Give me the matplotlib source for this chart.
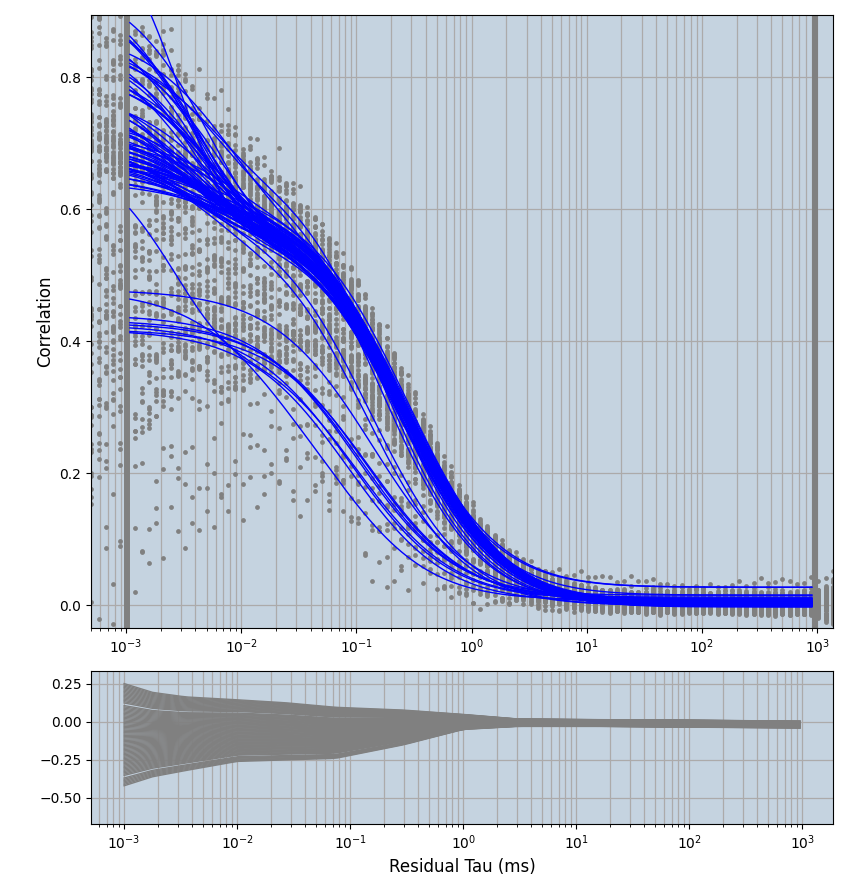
import numpy as np
import matplotlib
matplotlib.use("Agg")
import matplotlib.pyplot as plt

# ---------------- fit parameters ----------------
# main bundle
main_A = [0.60,0.59,0.61,0.60,0.58,0.62,0.60,0.59,0.61,0.60,
          0.57,0.60,0.61,0.59,0.60,0.62,0.58,0.60,0.61,0.59,
          0.60,0.61,0.58,0.60,0.62,0.59,0.60,0.61,0.60,0.58,
          0.59,0.61,0.60,0.62,0.59,0.60,0.58,0.61,0.60,0.59,
          0.63,0.60,0.59,0.61,0.60,0.58,0.60,0.62,0.59,0.61,
          0.60,0.59,0.61,0.58,0.60,0.62,0.60,0.59,0.61,0.60]
main_tauD = [0.26,0.25,0.27,0.24,0.26,0.28,0.25,0.27,0.26,0.23,
             0.26,0.27,0.25,0.28,0.24,0.26,0.27,0.25,0.26,0.29,
             0.25,0.26,0.24,0.27,0.26,0.25,0.28,0.26,0.27,0.24,
             0.26,0.25,0.27,0.26,0.23,0.26,0.28,0.25,0.26,0.27,
             0.24,0.26,0.27,0.25,0.26,0.28,0.25,0.26,0.27,0.24,
             0.26,0.25,0.27,0.26,0.29,0.25,0.26,0.24,0.27,0.26]
main_B = [0.06,0.12,0.20,0.05,0.15,0.09,0.25,0.13,0.04,0.18,
          0.10,0.30,0.07,0.22,0.14,0.08,0.27,0.16,0.05,0.11,
          0.19,0.09,0.34,0.13,0.06,0.23,0.10,0.17,0.04,0.29,
          0.12,0.15,0.08,0.21,0.36,0.10,0.14,0.07,0.26,0.17,
          0.05,0.11,0.19,0.32,0.08,0.16,0.10,0.24,0.13,0.06,
          0.28,0.09,0.18,0.12,0.33,0.05,0.15,0.21,0.10,0.35]
main_tauF = [0.004,0.003,0.005,0.004,0.006,0.007,0.004,0.005,0.003,0.004,
             0.005,0.004,0.003,0.006,0.006,0.004,0.005,0.003,0.004,0.005,
             0.004,0.007,0.005,0.004,0.004,0.006,0.003,0.005,0.005,0.004,
             0.003,0.004,0.006,0.004,0.004,0.003,0.005,0.004,0.006,0.004,
             0.004,0.005,0.003,0.004,0.007,0.005,0.004,0.003,0.005,0.006,
             0.005,0.004,0.003,0.006,0.004,0.005,0.004,0.003,0.004,0.005]
main_off = [0.002,0.000,0.004,0.001,-0.002,0.003,0.006,0.001,0.002,-0.001,
            0.003,0.000,0.005,0.002,0.001,-0.003,0.004,0.002,0.000,0.003,
            0.001,0.007,0.002,-0.001,0.003,0.001,0.004,0.000,0.002,0.005,
            0.001,-0.002,0.003,0.002,0.000,0.004,0.001,0.006,0.002,0.001,
            0.003,0.000,0.002,0.004,-0.001,0.002,0.005,0.001,0.003,0.000,
            0.002,0.004,0.001,-0.002,0.003,0.002,0.000,0.008,0.001,0.003]

# outlying fits: crossing, below-bundle, steep top, offset tails, lower group
extra_A    = [0.68,0.67,0.69, 0.60,0.59, 0.58, 0.56,0.57,0.58,
              0.468,0.40,0.40,0.415,0.42,0.41,0.425,0.418,0.412]
extra_tauD = [0.17,0.16,0.18, 0.13,0.12, 0.26, 0.24,0.25,0.24,
              0.14,0.06,0.10,0.09,0.11,0.13,0.10,0.12,0.085]
extra_B    = [0.18,0.20,0.16, 0.08,0.10, 0.55, 0.10,0.12,0.08,
              0.0,0.07,0.30,0.0,0.0,0.0,0.0,0.0,0.0]
extra_tauF = [0.005,0.006,0.005, 0.004,0.004, 0.003, 0.004,0.004,0.004,
              0.004,0.010,0.0025,0.004,0.004,0.004,0.004,0.004,0.004]
extra_off  = [0.000,0.002,0.000, 0.000,0.000, 0.000, 0.027,0.027,0.015,
              0.010,0.008,0.010,0.010,0.012,0.008,0.015,0.010,0.006]
structure_kappa = 5.0

A = main_A + extra_A
tauD = main_tauD + extra_tauD
B = main_B + extra_B
tauF = main_tauF + extra_tauF
off = main_off + extra_off

# ---------------- lag grid and spreads ----------------
lag_first, lag_last, n_lags = 5.0e-4, 1.37e3, 104
fit_first, fit_last = 1.08e-3, 900.0
resid_first, resid_last, n_resid = 1.0e-3, 955.0, 96

cloud_tau = [5e-4, 1e-3, 3e-3, 1e-2, 3e-2, 0.1, 0.3, 1.0, 3.0, 10.0, 100.0, 900.0, 1400.0]
cloud_lo  = [-0.50, -0.42, -0.32, -0.25, -0.16, -0.10, -0.06, -0.035, -0.02, -0.015, -0.012, -0.015, -0.03]
cloud_hi  = [0.06, 0.03, 0.06, 0.10, 0.08, 0.05, 0.05, 0.03, 0.02, 0.015, 0.012, 0.015, 0.03]
cloud_u = [0.0, -0.5, 0.3, -0.8, 0.15, -0.2, 0.6, -0.95, 0.05, -0.35,
           0.45, -0.65, -0.1, 0.85, -0.75, 0.2, -0.05, 1.0, -1.0, 0.35,
           -0.55, 0.7, -0.3, -0.85, 0.5]

resid_tau = [1e-3, 1.8e-3, 3.5e-3, 1e-2, 2.7e-2, 7.4e-2, 0.3, 1.0, 3.0, 16.0, 100.0, 955.0]
resid_lo  = [-0.42, -0.36, -0.32, -0.26, -0.25, -0.24, -0.15, -0.05, -0.03, -0.03, -0.035, -0.04]
resid_hi  = [0.26, 0.20, 0.17, 0.15, 0.13, 0.10, 0.08, 0.05, 0.02, 0.015, 0.012, 0.005]
resid_q = [0.50, 0.20, 0.80, 0.35, 0.65, 0.00, 0.95, 0.45, 0.10, 0.70,
           0.30, 0.90, 0.55, 0.15, 0.85, 0.40, 0.60, 0.25, 0.75, 0.05]
resid_q_fine = [0.0, 0.0125, 0.025, 0.0375]

stripe_tau = [1.02e-3, 957.0]
stripe_lo = [-0.1, -0.1]
stripe_hi = [1.0, 1.0]


def model(t, a, td, b, tf, o):
    return (a / (1 + t / td) / np.sqrt(1 + t / (structure_kappa ** 2 * td))
            + b * np.exp(-t / tf) + o)


lag_ms = np.geomspace(lag_first, lag_last, n_lags)
fit_tau = np.geomspace(fit_first, fit_last, 400)
res_tau = np.geomspace(resid_first, resid_last, n_resid)

lo_at = np.interp(np.log10(lag_ms), np.log10(cloud_tau), cloud_lo)
hi_at = np.interp(np.log10(lag_ms), np.log10(cloud_tau), cloud_hi)
rlo = np.interp(np.log10(res_tau), np.log10(resid_tau), resid_lo)
rhi = np.interp(np.log10(res_tau), np.log10(resid_tau), resid_hi)

bg = "#c5d3e0"
gridc = "#acaaaa"

fig = plt.figure(figsize=(8.59, 8.86), dpi=100)
ax1 = fig.add_axes([0.106, 0.291, 0.864, 0.692])
ax2 = fig.add_axes([0.106, 0.070, 0.864, 0.173])

for ax in (ax1, ax2):
    ax.set_facecolor(bg)
    ax.set_xscale("log")
    ax.set_axisbelow(True)
    ax.grid(True, which="both", axis="x", color=gridc, linewidth=0.9)
    ax.grid(True, which="major", axis="y", color=gridc, linewidth=0.9)

n_curves = len(A)
xs, ys = [], []
for i in range(n_curves):
    base = model(lag_ms, A[i], tauD[i], B[i], tauF[i], off[i])
    u = np.array([cloud_u[(i + 7 * j) % len(cloud_u)] for j in range(n_lags)])
    dev = np.where(u < 0, -u * lo_at, u * hi_at)
    xs.append(lag_ms)
    ys.append(base + dev)
ax1.scatter(np.concatenate(xs), np.concatenate(ys), s=12, color="#808080",
            linewidths=0, zorder=2)
ax1.vlines(stripe_tau, stripe_lo, stripe_hi, colors="#808080", linewidth=4.3, zorder=2)

for i in range(n_curves):
    ax1.plot(fit_tau, model(fit_tau, A[i], tauD[i], B[i], tauF[i], off[i]),
             color="blue", linewidth=1.0, zorder=3)

nq = len(resid_q)
for i in range(n_curves):
    q = resid_q[i % nq] + resid_q_fine[(i // nq) % len(resid_q_fine)]
    ax2.plot(res_tau, rlo + q * (rhi - rlo), color="#808080", linewidth=1.0)

ax1.set_xlim(4.97e-4, 1.38e3)
ax1.set_ylim(-0.035, 0.894)
ax2.set_xlim(5.1e-4, 1.88e3)
ax2.set_ylim(-0.671, 0.336)

ax1.set_ylabel("Correlation", fontsize=12)
ax2.set_xlabel("Residual Tau (ms)", fontsize=12)

fig.savefig("out.png", dpi=100)
